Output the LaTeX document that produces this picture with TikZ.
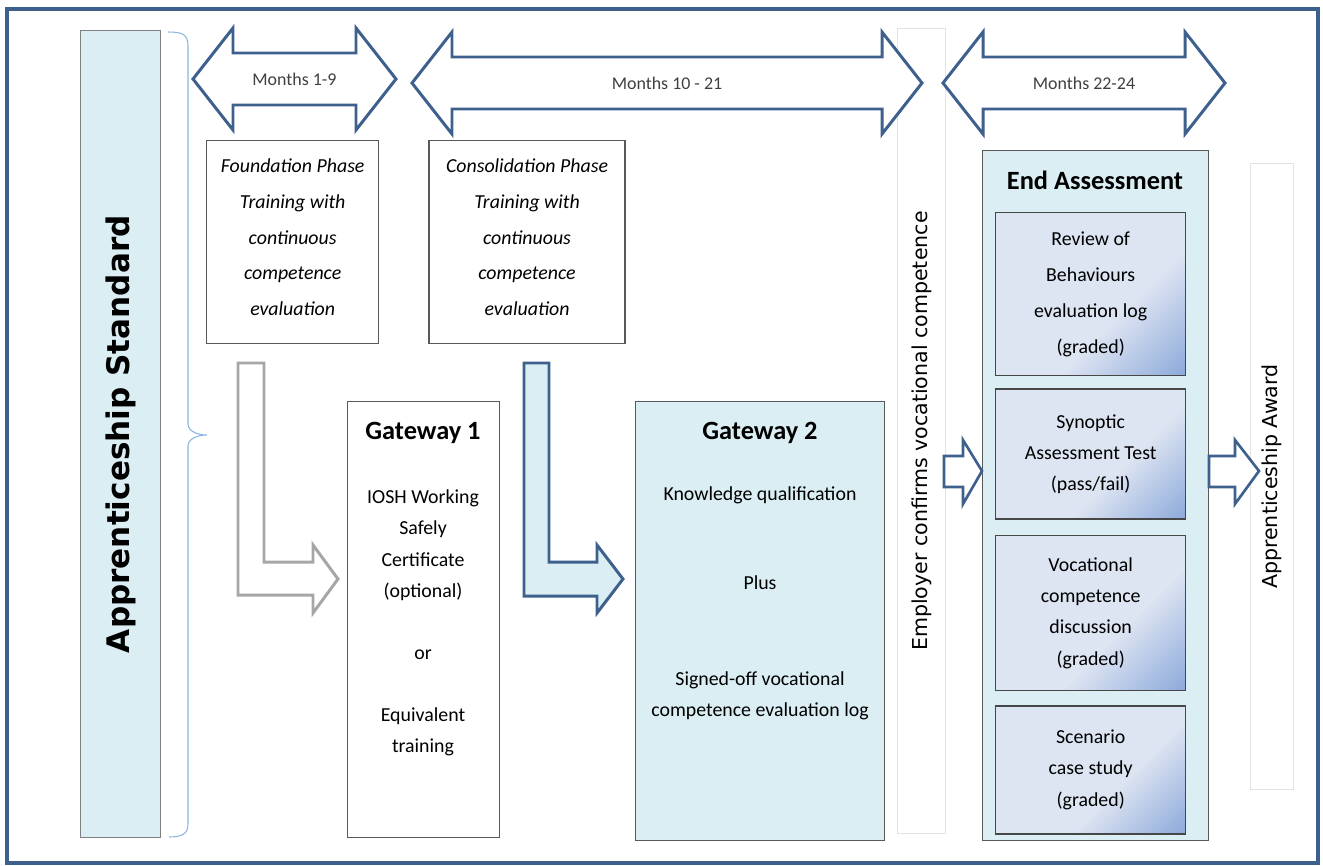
\documentclass[tikz,border=0pt]{standalone}
\usepackage{fontspec}
\setmainfont{Carlito}
\newfontfamily\verdfont{DejaVu Sans}
\usetikzlibrary{positioning}

\definecolor{frameblue}{RGB}{62,96,140}
\definecolor{paleblue}{HTML}{DAEEF3}
\definecolor{bracecol}{HTML}{8DB3E2}
\definecolor{arrowgray}{HTML}{A6A6A6}
\definecolor{boxgray}{HTML}{595959}
\definecolor{fadelight}{HTML}{DDE4F2}
\definecolor{fadeblue}{HTML}{8AA8DA}
\definecolor{empgray}{HTML}{E3E3E3}
\definecolor{monthtxt}{HTML}{404040}

\pgfdeclarehorizontalshading{boxfade}{100bp}{color(0bp)=(fadelight); color(60bp)=(fadelight); color(86bp)=(fadeblue); color(100bp)=(fadeblue)}

\tikzset{
  frame/.style={draw=frameblue, line width=2.3pt},
  stdbox/.style={draw=gray, line width=0.8pt, fill=paleblue, minimum width=1.6cm, minimum height=16.14cm},
  stdtext/.style={font=\verdfont\bfseries\fontsize{17.7}{20}\selectfont},
  monthsarrow/.style={draw=frameblue, line width=1.7pt, fill=white, line join=miter},
  monthtext/.style={font=\fontsize{10.2}{12}\selectfont, text=monthtxt},
  phasebox/.style={draw=boxgray, line width=0.8pt, fill=white, minimum width=3.44cm, minimum height=4.06cm, align=center, font=\fontsize{11.3}{20.4}\selectfont\itshape},
  gatebox/.style={draw=boxgray, line width=0.8pt, fill=white, minimum width=3.04cm, minimum height=8.72cm},
  gatetitle/.style={font=\bfseries\fontsize{15}{18}\selectfont},
  gatetext/.style={align=center, font=\fontsize{11.3}{17.7}\selectfont},
  thinbox/.style={draw=empgray, line width=0.8pt, fill=white},
  sidetext/.style={font=\verdfont\fontsize{11.7}{14}\selectfont},
  endbox/.style={draw=boxgray, line width=0.8pt, fill=paleblue, minimum width=4.52cm, minimum height=13.8cm},
  fadebox/.style={draw=boxgray!80!black, line width=0.8pt, shading=boxfade, shading angle=-45, minimum width=3.8cm, align=center, font=\fontsize{11.3}{17.8}\selectfont},
  bentgray/.style={draw=arrowgray, line width=1.7pt, fill=white},
  bentblue/.style={draw=frameblue, line width=1.7pt, fill=paleblue},
  blockarrow/.style={draw=frameblue, line width=1.5pt, fill=white}
}

\begin{document}
\begin{tikzpicture}[x=0.02cm, y=-0.02cm]
  \useasboundingbox (0,0) rectangle (1323,866);
  \draw [frame] (7,9) rectangle (1318,863);

  % standard column and brace
  \node [stdbox, anchor=north west] (std) at (80,30) {};
  \node [stdtext, rotate=90] (std_t) at (std.center) {Apprenticeship Standard};
  \draw [draw=bracecol, line width=0.6pt] (168,32) .. controls (182,32) and (188,34) .. (188,46)
    -- (188,424) .. controls (188,431) and (197,435) .. (207,435)
    .. controls (197,435) and (188,439) .. (188,446)
    -- (188,824) .. controls (188,834) and (182,837) .. (169,837);

  % employer sign-off
  \node [thinbox, minimum width=0.96cm, minimum height=16.1cm, anchor=north west] (emp) at (897,28) {};
  \node [sidetext, rotate=90] (emp_t) at (emp.center) {Employer confirms vocational competence};

  % duration arrows
  \foreach \xa/\xb/\ya/\txt [count=\i] in {193/396/79/Months 1-9, 412/922/83/Months 10 - 21, 943/1225/83/Months 22-24} {
    \draw [monthsarrow] (\xa,\ya) -- ({\xa+40},{\ya-51}) -- ({\xa+40},{\ya-26}) -- ({\xb-40},{\ya-26})
      -- ({\xb-40},{\ya-51}) -- (\xb,\ya) -- ({\xb-40},{\ya+51}) -- ({\xb-40},{\ya+26})
      -- ({\xa+40},{\ya+26}) -- ({\xa+40},{\ya+51}) -- cycle;
    \node [monthtext] (months\i) at ({(\xa+\xb)/2},\ya) {\txt};
  }

  % training phases
  \node [phasebox, anchor=north west] (found) at (206,140) {Foundation Phase\\Training with\\continuous\\competence\\evaluation\\[-14.7pt]};
  \node [phasebox, minimum width=3.92cm] (consol) [right=0.98cm of found] {Consolidation Phase\\Training with\\continuous\\competence\\evaluation\\[-14.7pt]};

  % bent arrows
  \draw [bentgray] (238,363) -- (264,363) -- (264,562) -- (313,562) -- (313,545) -- (338,579)
    -- (313,613) -- (313,595) -- (238,595) -- cycle;
  \draw [bentblue] (524,363) -- (549,363) -- (549,562) -- (597,562) -- (597,545) -- (623,579)
    -- (597,613) -- (597,596) -- (524,596) -- cycle;

  % gateways
  \node [gatebox, anchor=north west] (gw1) at (347,401) {};
  \node [gatetitle] (gw1_t) at (423,433) {Gateway 1};
  \node [gatetext] (gw1_b) at (423,623) {IOSH Working\\Safely\\Certificate\\(optional)\\[17.7pt]or\\[17.7pt]Equivalent\\training};

  \node [gatebox, fill=paleblue, minimum width=4.98cm, minimum height=8.78cm, anchor=north west] (gw2) at (635,401) {};
  \node [gatetitle] (gw2_t) at (760,433) {Gateway 2};
  \node [gatetext] (gw2_a) at (760,495) {Knowledge qualification};
  \node [gatetext] (gw2_b) at (760,583) {Plus};
  \node [gatetext] (gw2_c) at (760,696) {Signed-off vocational\\competence evaluation log};

  % end assessment
  \node [endbox, anchor=north west] (endA) at (982,150) {};
  \node [gatetitle] (endA_t) at (1095,180) {End Assessment};
  \node [fadebox, minimum height=3.26cm, anchor=north west, font=\fontsize{11.3}{20.4}\selectfont] (rev) at (995,212) {Review of\\Behaviours\\evaluation log\\(graded)};
  \node [fadebox, minimum height=2.6cm] (syn) [below=0.24cm of rev] {Synoptic\\Assessment Test\\(pass/fail)};
  \node [fadebox, minimum height=3.1cm] (voc) [below=0.3cm of syn] {Vocational\\competence\\discussion\\(graded)};
  \node [fadebox, minimum height=2.56cm] (scen) [below=0.28cm of voc] {Scenario\\case study\\(graded)};

  % award
  \node [thinbox, minimum width=0.86cm, minimum height=12.52cm, anchor=north west] (award) at (1250,163) {};
  \node [sidetext, rotate=90] (award_t) at (award.center) {Apprenticeship Award};

  % block arrows
  \draw [blockarrow] (944,456) -- (963,456) -- (963,440) -- (982,471) -- (963,504) -- (963,487) -- (944,487) -- cycle;
  \draw [blockarrow] (1209,456) -- (1235,456) -- (1235,440) -- (1259,471) -- (1235,504) -- (1235,487) -- (1209,487) -- cycle;
\end{tikzpicture}
\end{document}
